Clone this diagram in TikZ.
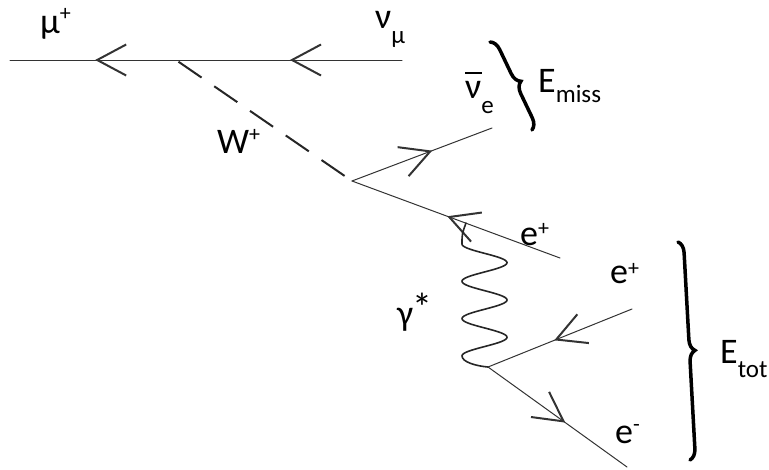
\documentclass[tikz,border=0pt]{standalone}
\usepackage{fontspec}
\setmainfont{Carlito}
\usetikzlibrary{arrows.meta,decorations.markings,decorations.pathreplacing}
\newcommand\supx[2][13pt]{\raisebox{#1}{\fontsize{22}{22}\selectfont #2}}
\newcommand\subx[2][-12pt]{\raisebox{#1}{\fontsize{25}{25}\selectfont #2}}
\tikzset{
  lbl/.style={anchor=base west, inner sep=0pt, font=\fontsize{36}{40}\selectfont, text=black},
  fermion/.style={draw=black!80, line width=1pt, line cap=round},
  barb/.tip={Straight Barb[length=29pt,width=31pt,line width=2pt]},
  farrow/.style={postaction={decorate}, decoration={markings, mark=at position #1 with {\arrow{barb}}}},
  boson/.style={draw=black!85, line width=2pt, dash pattern=on 28pt off 15.4pt},
  photon/.style={draw=black!85, line width=1.6pt, line cap=round, line join=round},
  bracex/.style={draw=black, line width=3.5pt, line cap=round, decorate, decoration={brace, amplitude=11pt}}
}
\begin{document}
\begin{tikzpicture}[x=1pt,y=-1pt]
\useasboundingbox (0,0) rectangle (769,469);
% vertices and end points
\coordinate (muL) at (10,60);
\coordinate (nuR) at (402,60);
\coordinate (Wtop) at (176,60);
\coordinate (V1) at (352,181);
\coordinate (NE) at (492,128);
\coordinate (ET) at (560,258);
\coordinate (PT) at (466,223);
\coordinate (V2) at (488,367);
\coordinate (EB) at (632,309);
\coordinate (EM) at (627,467);
% top fermion line
\draw[fermion, postaction={decorate}, decoration={markings,
   mark=at position 0.286 with {\arrow{barb}},
   mark=at position 0.783 with {\arrow{barb}}}] (nuR) -- (muL);
% W boson
\draw[boson, shorten <=3pt, shorten >=9pt] (Wtop) -- (V1);
% anti-neutrino
\draw[fermion, farrow=0.573] (V1) -- (NE);
% positron (top)
\draw[fermion, farrow=0.542] (ET) -- (V1);
% virtual photon
\draw[photon] (PT) .. controls (462,234) .. (462,244)
  -- plot[smooth, samples=140, domain=0:111.9, variable=\t] ({484.5-22.5*cos(\t*9.6515)}, {244+\t})
  .. controls (462,362) and (476,366) .. (V2);
% pair
\draw[fermion, farrow=0.54] (EB) -- (V2);
\draw[fermion, farrow=0.556] (V2) -- (EM);
% braces
\draw[bracex] (490,42) coordinate (b1a) -- (532,130) coordinate (b1b);
\draw[bracex] (678,242) coordinate (b2a) -- (690,460) coordinate (b2b);
% labels
\node[lbl] (mu) at (40,33) {μ\supx{+}};
\node[lbl] (numu) at (375,28) {ν\subx[-15pt]{μ}};
\node[lbl] (W) at (217,153) {W\supx[12pt]{+}};
\node[lbl] (nue) at (465,98) {\makebox[0pt][l]{\raisebox{24pt}{\rule{17pt}{1.6pt}}}ν\subx[-15pt]{e}};
\node[lbl] (Em) at (538,92) {E\subx[-10pt]{miss}};
\node[lbl] (Et) at (720,363) {E\subx[-14pt]{tot}};
\node[lbl] (g) at (397,325) {γ\kern-1pt\raisebox{4pt}{\fontsize{40}{40}\selectfont *}};
\node[lbl] (ep1) at (520,245) {e\supx[10pt]{+}};
\node[lbl] (ep2) at (610,283) {e\supx[8pt]{+}};
\node[lbl] (em) at (615,443) {e\supx[12pt]{-}};
\end{tikzpicture}
\end{document}
